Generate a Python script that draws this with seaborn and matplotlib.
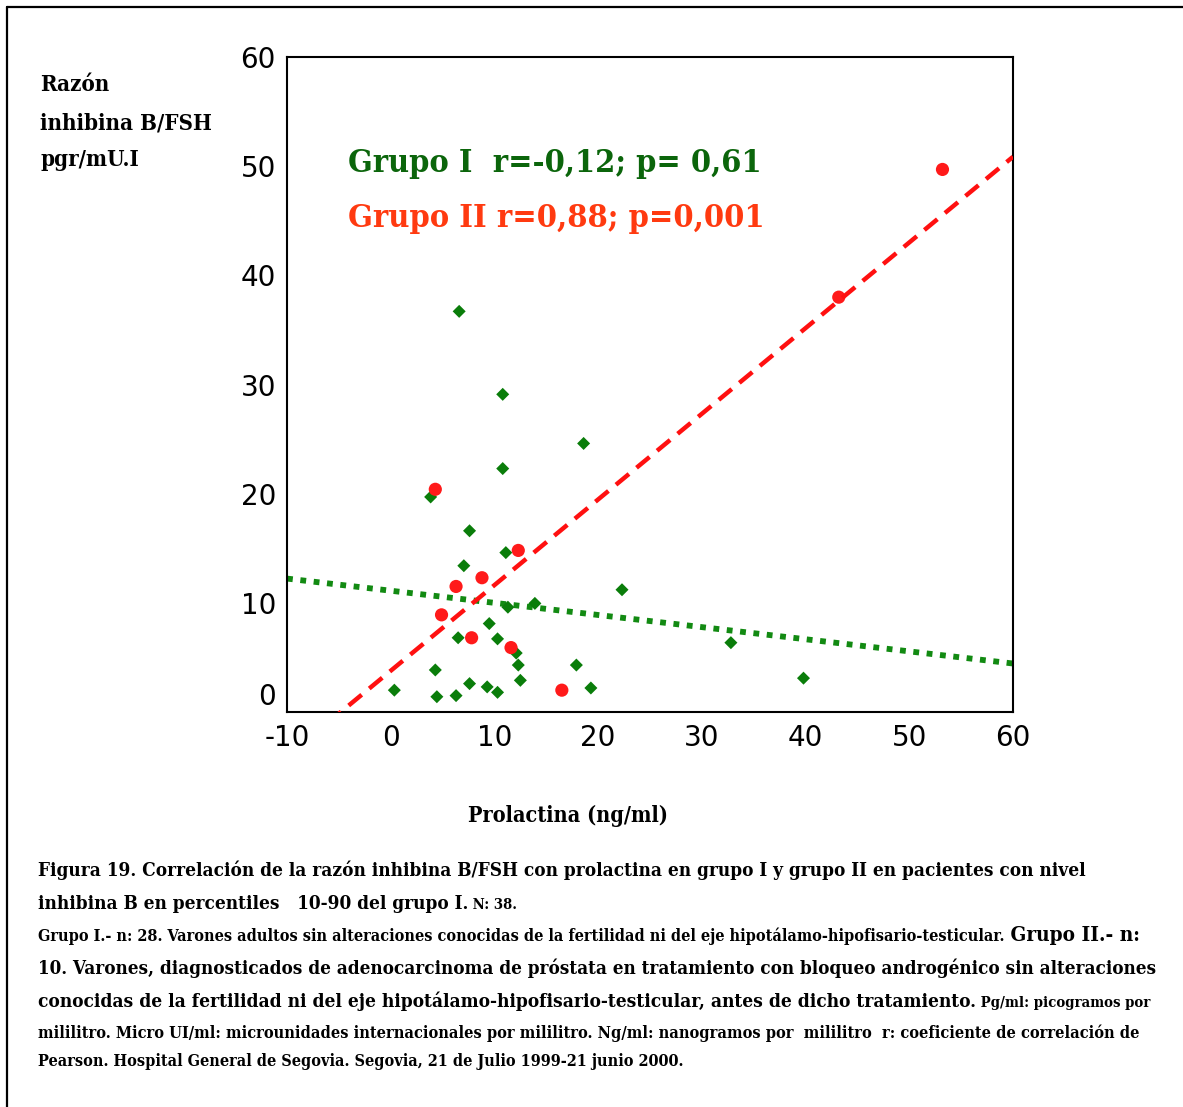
import os
import numpy as np
import pandas as pd
import matplotlib
matplotlib.use("Agg")
import matplotlib.pyplot as plt
import matplotlib.font_manager as fm
import matplotlib.transforms as mtransforms
from matplotlib.font_manager import FontProperties
from matplotlib.lines import Line2D
import seaborn as sns

# ---------------- data ----------------
grupo1_prolactina = [6.6, 10.8, 18.6, 10.8, 3.85, 7.6, 11.1, 7.05, 22.3, 11.3,
                     13.9, 9.5, 6.5, 10.3, 12.1, 12.3, 17.9, 4.3, 12.5, 0.35,
                     7.6, 9.3, 10.3, 6.3, 4.45, 19.3, 32.8, 39.8]
grupo1_razon = [36.7, 29.1, 24.6, 22.3, 19.7, 16.6, 14.6, 13.4, 11.2, 9.6,
                9.95, 8.1, 6.8, 6.7, 5.4, 4.3, 4.3, 3.85, 2.9, 2.0,
                2.6, 2.3, 1.8, 1.5, 1.4, 2.2, 6.35, 3.1]
grupo2_prolactina = [4.3, 12.3, 8.8, 6.3, 4.9, 7.8, 11.6, 16.5, 43.2, 53.2]
grupo2_razon = [20.4, 14.8, 12.3, 11.5, 8.9, 6.8, 5.9, 2.0, 38.0, 49.7]

x_ticks = [-10, 0, 10, 20, 30, 40, 50, 60]
y_ticks = [0, 10, 20, 30, 40, 50, 60]

texto_grupo1 = "Grupo I  r=-0,12; p= 0,61"
texto_grupo2 = "Grupo II r=0,88; p=0,001"
ylabel_lines = ["Razón", "inhibina B/FSH", "pgr/mU.I"]
xlabel = "Prolactina (ng/ml)"

caption = [
    [("Figura 19. Correlación de la razón inhibina B/FSH con prolactina en grupo I y grupo II en pacientes con nivel", 1.0)],
    [("inhibina B en percentiles   10-90 del grupo I.", 1.0), (" N: 38.", 0.78)],
    [("Grupo I.- n: 28. Varones adultos sin alteraciones conocidas de la fertilidad ni del eje hipotálamo-hipofisario-testicular.", 0.78),
     (" Grupo II.- n:", 1.0)],
    [("10. Varones, diagnosticados de adenocarcinoma de próstata en tratamiento con bloqueo androgénico sin alteraciones", 1.0)],
    [("conocidas de la fertilidad ni del eje hipotálamo-hipofisario-testicular, antes de dicho tratamiento.", 1.0),
     (" Pg/ml: picogramos por", 0.78)],
    [("mililitro. Micro UI/ml: microunidades internacionales por mililitro. Ng/ml: nanogramos por  mililitro  r: coeficiente de correlación de", 0.78)],
    [("Pearson. Hospital General de Segovia. Segovia, 21 de Julio 1999-21 junio 2000.", 0.78)],
]
caption_baselines = [876, 909, 941, 974, 1007, 1038, 1066]
caption_rights = [1085, 515, 1131, 1150, 1150, 1130, 680]

# ---------------- style ----------------
sns.set_theme(style="white")
plt.rcParams["font.family"] = ["DejaVu Sans"]

GREEN_MK = "#0a7d0a"
RED_MK = "#ff1a1a"
GREEN_TX = "#0b650b"
RED_TX = "#ff3a10"


def pick_bold_condensed():
    paths = [f.fname for f in fm.fontManager.ttflist]
    for key in ["DejaVuSerifCondensed-Bold.ttf", "LiberationSansNarrow-Bold.ttf",
                "LiberationSerif-Bold.ttf"]:
        for p in paths:
            if os.path.basename(p) == key:
                return FontProperties(fname=p)
    return FontProperties(family="serif", weight="bold")


bold_fp = pick_bold_condensed()

W, H = 1183, 1107
fig = plt.figure(figsize=(W / 100, H / 100), dpi=100)
fig.patch.set_facecolor("white")
renderer = fig.canvas.get_renderer()


def fpos(x, y):
    return (x / W, 1 - y / H)


# frame lines (left and top edge of page box)
fig.add_artist(Line2D([7 / W, 7 / W], [0, 1 - 7 / H], transform=fig.transFigure,
                      color="black", lw=1.6))
fig.add_artist(Line2D([7 / W, 1], [1 - 7 / H, 1 - 7 / H], transform=fig.transFigure,
                      color="black", lw=1.6))

ax = fig.add_axes([287 / W, 1 - 712 / H, (1013 - 287) / W, (712 - 57) / H])
ax.set_xlim(-10, 60)
ax.set_ylim(0, 60)

df1 = pd.DataFrame({"x": grupo1_prolactina, "y": grupo1_razon})
df2 = pd.DataFrame({"x": grupo2_prolactina, "y": grupo2_razon})

sns.regplot(data=df1, x="x", y="y", ax=ax, scatter=False, ci=None, truncate=False,
            line_kws=dict(color="#128a12", lw=4.2, linestyle=(0, (1, 1.3)),
                          dash_capstyle="butt", zorder=2))
sns.scatterplot(data=df1, x="x", y="y", ax=ax, marker="D", s=44, color=GREEN_MK,
                edgecolor="none", zorder=3)
sns.scatterplot(data=df2, x="x", y="y", ax=ax, marker="o", s=90, color=RED_MK,
                edgecolor="none", zorder=3)
sns.regplot(data=df2, x="x", y="y", ax=ax, scatter=False, ci=None, truncate=False,
            line_kws=dict(color="#ff1010", lw=3.2, linestyle=(0, (3.8, 2.2)),
                          dash_capstyle="butt", zorder=4))

ax.set_xlim(-10, 60)
ax.set_ylim(0, 60)
ax.set_xticks(x_ticks)
ax.set_yticks(y_ticks)
ax.set_xticklabels([str(v) for v in x_ticks])
ax.set_yticklabels([str(v) for v in y_ticks])
ax.set_xlabel("")
ax.set_ylabel("")
ax.tick_params(axis="both", direction="out", length=3, width=2.5, color="#222222",
               labelsize=20, labelcolor="black")
ax.tick_params(axis="x", pad=6)
ax.tick_params(axis="y", pad=5)
for sp in ax.spines.values():
    sp.set_visible(True)
    sp.set_color("black")
    sp.set_linewidth(1.5)
ax.grid(False)

# raise the "0" label on the y axis so it clears the "-10" of the x axis
for lbl in ax.get_yticklabels():
    if lbl.get_text() == "0":
        off = mtransforms.ScaledTranslation(0, 18 / 100, fig.dpi_scale_trans)
        lbl.set_transform(lbl.get_transform() + off)


def fitted_line(x0, ybase, segs, right, color="black", fp=bold_fp):
    base = 20.0
    objs = []
    for s, rel in segs:
        t = fig.text(0, 0, s, fontproperties=fp, fontsize=base * rel, color=color,
                     va="baseline", ha="left")
        objs.append((t, rel))

    def layout(size):
        x = x0
        for t, rel in objs:
            t.set_fontsize(size * rel)
            t.set_position(fpos(x, ybase))
            x += t.get_window_extent(renderer).width
        return x

    r = layout(base)
    size = base * (right - x0) / (r - x0)
    layout(size)
    return size


# group annotation texts
fitted_line(348, 172, [(texto_grupo1, 1.0)], 760, color=GREEN_TX)
fitted_line(348, 227, [(texto_grupo2, 1.0)], 762, color=RED_TX)

# y-label block
size_lab = fitted_line(40, 129, [(ylabel_lines[1], 1.0)], 213)
fig.text(*fpos(40, 91), ylabel_lines[0], fontproperties=bold_fp, fontsize=size_lab,
         va="baseline", ha="left", color="black")
fig.text(*fpos(40, 166), ylabel_lines[2], fontproperties=bold_fp, fontsize=size_lab,
         va="baseline", ha="left", color="black")

# x label
fitted_line(468, 822, [(xlabel, 1.0)], 668)

# caption
for segs, yb, rt in zip(caption, caption_baselines, caption_rights):
    fitted_line(38, yb, segs, rt)

fig.savefig("out.png", dpi=100, facecolor="white")
